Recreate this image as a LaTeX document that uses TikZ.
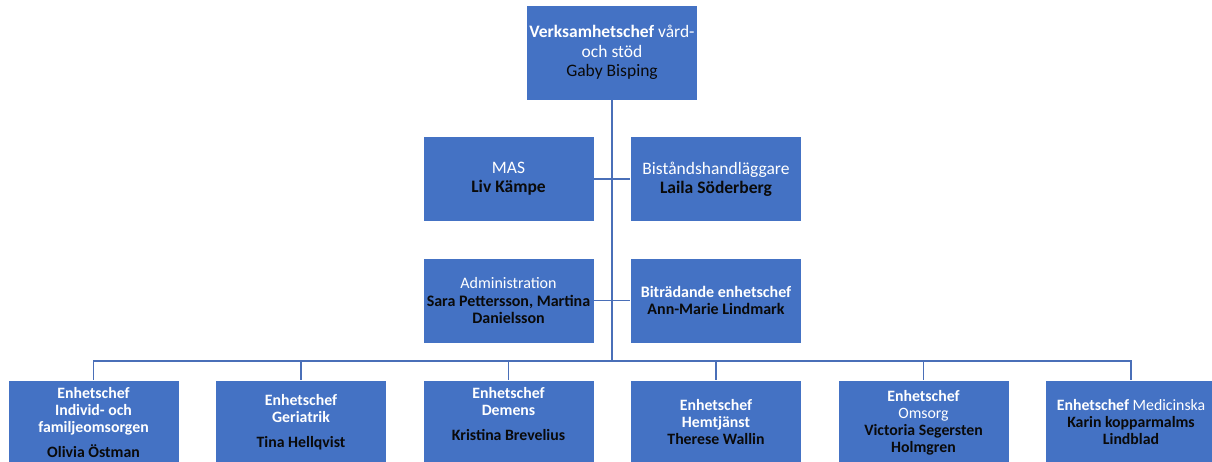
\documentclass[tikz,border=0pt]{standalone}
\usepackage{fontspec}
\setmainfont{Carlito}
\definecolor{boxblue}{HTML}{4472C4}
\definecolor{linkblue}{HTML}{4A6FB8}
\definecolor{nametext}{HTML}{0A0A0A}
\tikzset{
  orgbox/.style={draw=white, line width=0.9pt, fill=boxblue, minimum width=171pt, minimum height=85pt,
    inner sep=0pt, align=center, text=white, font=\fontsize{17.5}{19}\selectfont},
  midbox/.style={orgbox, font=\fontsize{16}{17.5}\selectfont},
  lowbox/.style={orgbox, font=\fontsize{15.8}{17}\selectfont},
  lowtext/.style={inner sep=0pt, align=center, text=white, font=\fontsize{15.8}{17}\selectfont},
  conn/.style={draw=linkblue, line width=1.3pt},
}
\newcommand{\nm}[1]{\textcolor{nametext}{#1}}
\begin{document}
\begin{tikzpicture}[x=1pt,y=1pt]
\useasboundingbox (0,0) rectangle (1212,-461);
\clip (0,0) rectangle (1212,-461);
\fill[white] (0,0) rectangle (1212,-461);
% top
\node[orgbox, minimum height=95pt, font=\fontsize{17.5}{19.5}\selectfont] (top) at (612,-52.5)
  {\textbf{Verksamhetschef} vård-\\och stöd\\\nm{Gaby Bisping}};
\node[orgbox] (mas) at (508.5,-179) {MAS\\\nm{\textbf{Liv Kämpe}}};
\node[orgbox] (bist) at (716,-179) {Biståndshandläggare\\\nm{\textbf{Laila Söderberg}}};
\node[midbox] (adm) at (508.5,-300.5) {Administration\\\nm{\textbf{Sara Pettersson, Martina}}\\\nm{\textbf{Danielsson}}};
\node[midbox] (bitr) at (716,-300.5) {\textbf{Biträdande enhetschef}\\\nm{\textbf{Ann-Marie Lindmark}}};
% bottom row
\node[lowbox] (b1) at (93.5,-422.5) {\textbf{Enhetschef}\\\textbf{Individ- och}\\\textbf{familjeomsorgen}\\[8pt]\nm{\textbf{Olivia Östman}}};
\node[lowbox] (b2) at (301,-422.5) {\textbf{Enhetschef}\\\textbf{Geriatrik}\\[8pt]\nm{\textbf{Tina Hellqvist}}};
\node[lowbox] (b3) at (508.5,-422.5) {};
\node[lowtext] (b3t) at ([yshift=8pt]b3.center) {\textbf{Enhetschef}\\\textbf{Demens}\\[8pt]\nm{\textbf{Kristina Brevelius}}};
\node[lowbox] (b4) at (716,-422.5) {\textbf{Enhetschef}\\\textbf{Hemtjänst}\\\nm{\textbf{Therese Wallin}}};
\node[lowbox] (b5) at (923.5,-422.5) {\textbf{Enhetschef}\\Omsorg\\\nm{\textbf{Victoria Segersten}}\\\nm{\textbf{Holmgren}}};
\node[lowbox] (b6) at (1131,-422.5) {\textbf{Enhetschef} Medicinska\\\nm{\textbf{Karin kopparmalms}}\\\nm{\textbf{Lindblad}}};
% connectors
\coordinate (hub) at (612,-361);
\draw[conn] (top.south) -- (hub);
\draw[conn] (mas.east) -- (bist.west);
\draw[conn] (adm.east) -- (bitr.west);
\foreach \b in {b1,b2,b3,b4,b5,b6} \draw[conn] (hub) -| (\b.north);
\end{tikzpicture}
\end{document}
